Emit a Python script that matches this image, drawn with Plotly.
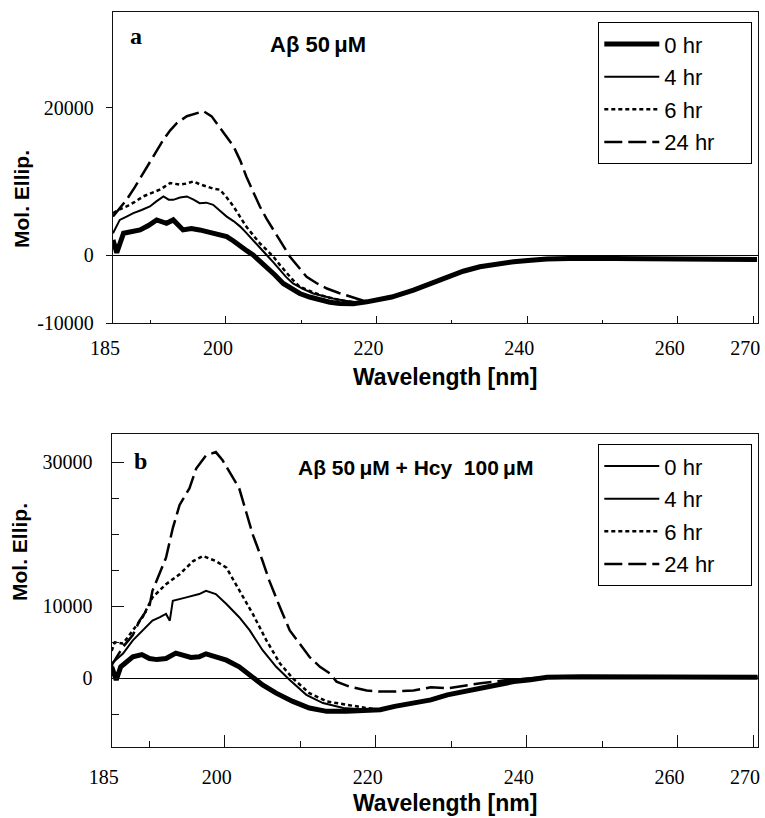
import plotly.graph_objects as go

W, H = 765, 818

# ---------------- Panel a : Abeta 50 uM ----------------
tail_a_wl = [222.0, 224.9, 227.0, 229.3, 231.5, 233.7, 236.0, 238.2, 240.5, 242.6, 247.0, 251.5, 256.0, 260.0, 265.0, 270.5]
tail_a_v = [-5700, -4760, -3900, -2950, -2200, -1590, -1200, -910, -700, -540, -450, -450, -500, -550, -560, -620]

a0_wl = [185.0, 185.5, 186.4, 187.5, 188.6, 189.7, 190.8, 192.1, 193.0, 194.3, 195.4, 196.5, 197.7, 198.8, 200.1,
         201.0, 201.9, 202.8, 203.6, 204.5, 205.4, 206.5, 207.6, 208.7, 209.8, 211.1, 212.5, 213.8, 215.1, 216.9,
         218.7, 220.1] + tail_a_wl
a0_v = [2040, 300, 2950, 3200, 3400, 4000, 4760, 4300, 4760, 3400, 3600, 3400, 3100, 2950, 2490,
        1900, 1130, 550, 0, -800, -1590, -2700, -3860, -4600, -5220, -5700, -6120, -6400, -6580, -6600,
        -6350, -6100] + tail_a_v

a4_wl = [185.0, 185.9, 186.8, 187.7, 188.8, 189.9, 190.8, 191.7, 192.4, 193.0, 193.9, 194.8, 195.7, 196.5, 197.4,
         198.3, 199.2, 200.1, 201.0, 201.9, 202.7, 203.6, 204.5, 205.4, 206.3, 207.2, 208.0, 208.9, 210.2, 211.6,
         212.9, 214.2, 215.8, 217.4, 218.7, 220.1] + tail_a_wl
a4_v = [2950, 4760, 5200, 5670, 6100, 6580, 7300, 7940, 7500, 7480, 7800, 7940, 7500, 7030, 7100,
        6800, 6000, 5210, 4600, 3850, 3000, 2040, 1000, 0, -1000, -2040, -3000, -3860, -4600, -5220,
        -5600, -5900, -6200, -6400, -6350, -6100] + tail_a_v

a6_wl = [185.0, 185.9, 186.8, 187.9, 189.0, 190.1, 191.2, 191.9, 192.6, 193.9, 194.8, 195.7, 196.5, 197.4, 198.3,
         199.2, 200.1, 201.0, 201.9, 202.7, 203.6, 204.5, 205.4, 206.3, 207.2, 208.1, 208.9, 209.8, 211.1, 212.5,
         213.8, 215.1, 216.9, 218.7, 220.1] + tail_a_wl
a6_v = [5670, 6200, 6580, 7200, 7940, 8400, 8850, 9300, 9760, 9530, 9700, 9980, 9600, 9300, 9000,
        8850, 7800, 6580, 5200, 3850, 2700, 1590, 700, -230, -1400, -2490, -3400, -4310, -4900, -5440,
        -5800, -6120, -6400, -6350, -6100] + tail_a_v

a24_wl = [185.0, 186.8, 187.9, 189.0, 190.4, 191.7, 192.6, 193.5, 194.8, 195.9, 197.0, 198.1, 199.2, 200.1, 201.0,
          201.9, 202.7, 203.6, 204.5, 205.4, 206.3, 207.4, 208.5, 209.6, 210.7, 212.0, 213.4, 215.0, 216.5, 218.7,
          220.1] + tail_a_wl
a24_v = [5215, 7480, 9200, 11110, 13400, 15650, 16900, 17900, 18820, 19200, 19500, 18800, 17230, 16100, 14730,
         12800, 10650, 8600, 6570, 4900, 3400, 1600, -230, -1600, -2950, -3800, -4540, -5150, -5670, -6350,
         -6100] + tail_a_v

# ---------------- Panel b : Abeta 50 uM + Hcy 100 uM ----------------
tail_b_wl = [222.5, 225.0, 227.3, 229.5, 231.7, 233.9, 236.1, 238.3, 240.5, 242.7, 247.2, 251.6, 256.0, 260.0, 265.0, 270.6]
tail_b_v = [-3900, -3500, -3000, -2290, -1800, -1380, -900, -460, -200, 140, 230, 230, 230, 250, 230, 150]

b0_wl = [185.0, 185.6, 186.2, 187.8, 189.0, 190.0, 191.0, 192.2, 193.5, 194.4, 195.5, 196.6, 197.5, 198.8, 200.2,
         201.9, 203.7, 205.0, 206.8, 209.0, 211.2, 213.5, 216.1, 218.8, 220.6] + tail_b_wl
b0_v = [1600, -230, 1600, 2980, 3300, 2750, 2600, 2750, 3500, 3210, 2900, 2980, 3400, 2980, 2520,
        1600, 230, -920, -2060, -3210, -4130, -4590, -4590, -4360, -4360] + tail_b_v

b4_wl = [185.0, 186.5, 187.8, 189.1, 190.4, 191.4, 192.2, 192.7, 193.1, 194.9, 196.6, 197.5, 198.8, 200.2, 201.9,
         203.3, 205.0, 206.8, 208.6, 210.8, 213.0, 215.7, 218.8, 220.6] + tail_b_wl
b4_v = [2060, 3440, 5280, 6650, 8030, 8500, 8940, 8000, 10780, 11240, 11700, 12150, 11700, 10320, 8490,
        6650, 3900, 1600, -230, -2290, -3440, -4130, -4360, -4360] + tail_b_v

b6_wl = [185.0, 185.4, 186.5, 187.8, 189.1, 190.4, 192.2, 194.0, 195.8, 197.1, 198.8, 200.2, 201.9, 203.7, 205.5,
         207.3, 209.0, 211.2, 213.5, 216.1, 218.8, 220.6] + tail_b_wl
b6_v = [3800, 5000, 4820, 6650, 8490, 11240, 13070, 14450, 16290, 16980, 16290, 15370, 12150, 8940, 5280,
        2060, 0, -2060, -3210, -3670, -4130, -4360] + tail_b_v

b24_wl = [185.0, 185.1, 186.5, 187.8, 188.7, 190.0, 190.4, 191.3, 192.2, 193.1, 194.0, 195.3, 196.2, 197.5, 198.8,
          199.7, 200.6, 201.9, 202.8, 203.7, 205.0, 205.9, 207.3, 208.6, 209.9, 211.2, 212.6, 213.9, 214.8, 216.5,
          218.8, 220.5, 222.4, 225.0, 227.3, 229.5, 233.9, 237.4, 240.5, 242.7, 247.2, 251.6, 256.0, 260.0, 265.0,
          270.6]
b24_v = [1600, 2000, 4360, 6000, 8030, 10000, 12150, 14500, 16750, 20870, 24080, 26380, 29130, 30960, 31420,
         30280, 28670, 26380, 23170, 19950, 16290, 13530, 9860, 6650, 4820, 2990, 1600, 690, -460, -1150,
         -1700, -1830, -1830, -1700, -1240, -1380, -690, -230, 0, 140, 230, 230, 230, 250, 230, 150]

names = ["0 hr", "4 hr", "6 hr", "24 hr"]

# tick labels
x_tickvals = [185, 200, 220, 240, 260, 270]
x_ticktext = ["185", "200", "220", "240", "260", "270"]
ya_tickvals = [-9220, 0, 20000]
ya_ticktext = ["-10000", "0", "20000"]
yb_tickvals = [0, 10000, 30000]
yb_ticktext = ["0", "10000", "30000"]

styles = [
    dict(color="black", width=5),
    dict(color="black", width=2),
    dict(color="black", width=2.5, dash="4px,3px"),
    dict(color="black", width=2.5, dash="18px,6px"),
]

# invisible padding so the legend box gets the reference's width
PAD = "\u00a0" * 5

fig = go.Figure()
for wl, v, nm, st in zip([a0_wl, a4_wl, a6_wl, a24_wl], [a0_v, a4_v, a6_v, a24_v], names, styles):
    fig.add_trace(go.Scatter(x=wl, y=v, mode="lines", name=nm + PAD, line=st,
                             xaxis="x", yaxis="y", legend="legend", legendgroup="a" + nm))

# panel b: the 0 hr curve is thick, but its legend sample is thin
for i, (wl, v, nm, st) in enumerate(zip([b0_wl, b4_wl, b6_wl, b24_wl], [b0_v, b4_v, b6_v, b24_v], names, styles)):
    if i == 0:
        fig.add_trace(go.Scatter(x=wl, y=v, mode="lines", name=nm, line=st, showlegend=False,
                                 xaxis="x2", yaxis="y2"))
        fig.add_trace(go.Scatter(x=[None], y=[None], mode="lines", name=nm + PAD,
                                 line=dict(color="black", width=2),
                                 xaxis="x2", yaxis="y2", legend="legend2", legendgroup="b" + nm))
    else:
        fig.add_trace(go.Scatter(x=wl, y=v, mode="lines", name=nm + PAD, line=st,
                                 xaxis="x2", yaxis="y2", legend="legend2", legendgroup="b" + nm))

serif = "Liberation Serif"
sans = "Liberation Sans"

axis_common = dict(showline=True, linecolor="#111", linewidth=1.3, mirror=True, showgrid=False,
                   automargin=False, tickfont=dict(family=serif, size=20, color="black"))

legend_common = dict(xanchor="left", yanchor="top",
                     bgcolor="white", bordercolor="black", borderwidth=1.3,
                     font=dict(family=sans, size=22, color="black"), itemwidth=55,
                     tracegroupgap=1)

fig.update_layout(
    width=W, height=H,
    margin=dict(l=0, r=0, t=0, b=0),
    paper_bgcolor="white", plot_bgcolor="white",
    template="none",
    xaxis=dict(domain=[113 / W, 757.7 / W], range=[185, 270.6], anchor="y",
               tickmode="array", tickvals=x_tickvals, ticktext=x_ticktext,
               ticks="inside", ticklen=7, tickwidth=1, tickcolor="#111", ticklabelstandoff=7,
               ticklabelshift=-8,
               minor=dict(tick0=190, dtick=20, ticks="inside", ticklen=3, tickcolor="#111", tickwidth=1),
               zeroline=False, **axis_common),
    yaxis=dict(domain=[1 - 323 / H, 1 - 12 / H], range=[-9220, 32950], anchor="x",
               tickmode="array", tickvals=ya_tickvals, ticktext=ya_ticktext,
               ticks="outside", ticklen=6, tickwidth=1, tickcolor="#111", ticklabelstandoff=8,
               zeroline=True, zerolinecolor="black", zerolinewidth=1, **axis_common),
    xaxis2=dict(domain=[111.7 / W, 758.3 / W], range=[185, 270.7], anchor="y2",
                tickmode="array", tickvals=x_tickvals, ticktext=x_ticktext,
                ticks="inside", ticklen=12, tickwidth=1, tickcolor="#111", ticklabelstandoff=12,
                ticklabelshift=-8,
                minor=dict(tick0=190, dtick=20, ticks="inside", ticklen=6, tickcolor="#111", tickwidth=1),
                zeroline=False, **axis_common),
    yaxis2=dict(domain=[1 - 747.3 / H, 1 - 434.3 / H], range=[-9580, 33890], anchor="x2",
                tickmode="array", tickvals=yb_tickvals, ticktext=yb_ticktext,
                ticks="inside", ticklen=12, tickwidth=1, tickcolor="#111", ticklabelstandoff=14,
                minor=dict(tick0=0, dtick=5000, ticks="inside", ticklen=7, tickcolor="#111", tickwidth=1),
                zeroline=True, zerolinecolor="black", zerolinewidth=1, **axis_common),
    legend=dict(x=598 / W, y=1 - 22 / H, **legend_common),
    legend2=dict(x=598 / W, y=1 - 444 / H, **legend_common),
    showlegend=True,
)

def px_ann(text, x, y, size, family, bold=True, angle=0):
    fig.add_annotation(text=("<b>%s</b>" % text) if bold else text,
                       x=x / W, y=1 - y / H, xref="paper", yref="paper",
                       xanchor="center", yanchor="middle", showarrow=False, textangle=angle,
                       font=dict(family=family, size=size, color="black"))

px_ann("a", 136, 36, 24, serif)
px_ann("b", 140, 461, 24, serif)
px_ann("Aβ 50\u2009μM", 318, 45, 22, sans)
px_ann("Aβ 50\u2009μM + Hcy  100\u2009μM", 416, 467, 21, sans)
px_ann("Wavelength [nm]", 445, 377, 23, sans)
px_ann("Wavelength [nm]", 445, 803, 23, sans)
px_ann("Mol. Ellip.", 21, 199, 21, sans, angle=-90)
px_ann("Mol. Ellip.", 19, 552, 21, sans, angle=-90)

# the page's default 8px body margin would shift the figure; remove it
fig.write_html("out.html", config={"displayModeBar": False},
               post_script="document.body.style.margin='0';document.body.style.padding='0';")
